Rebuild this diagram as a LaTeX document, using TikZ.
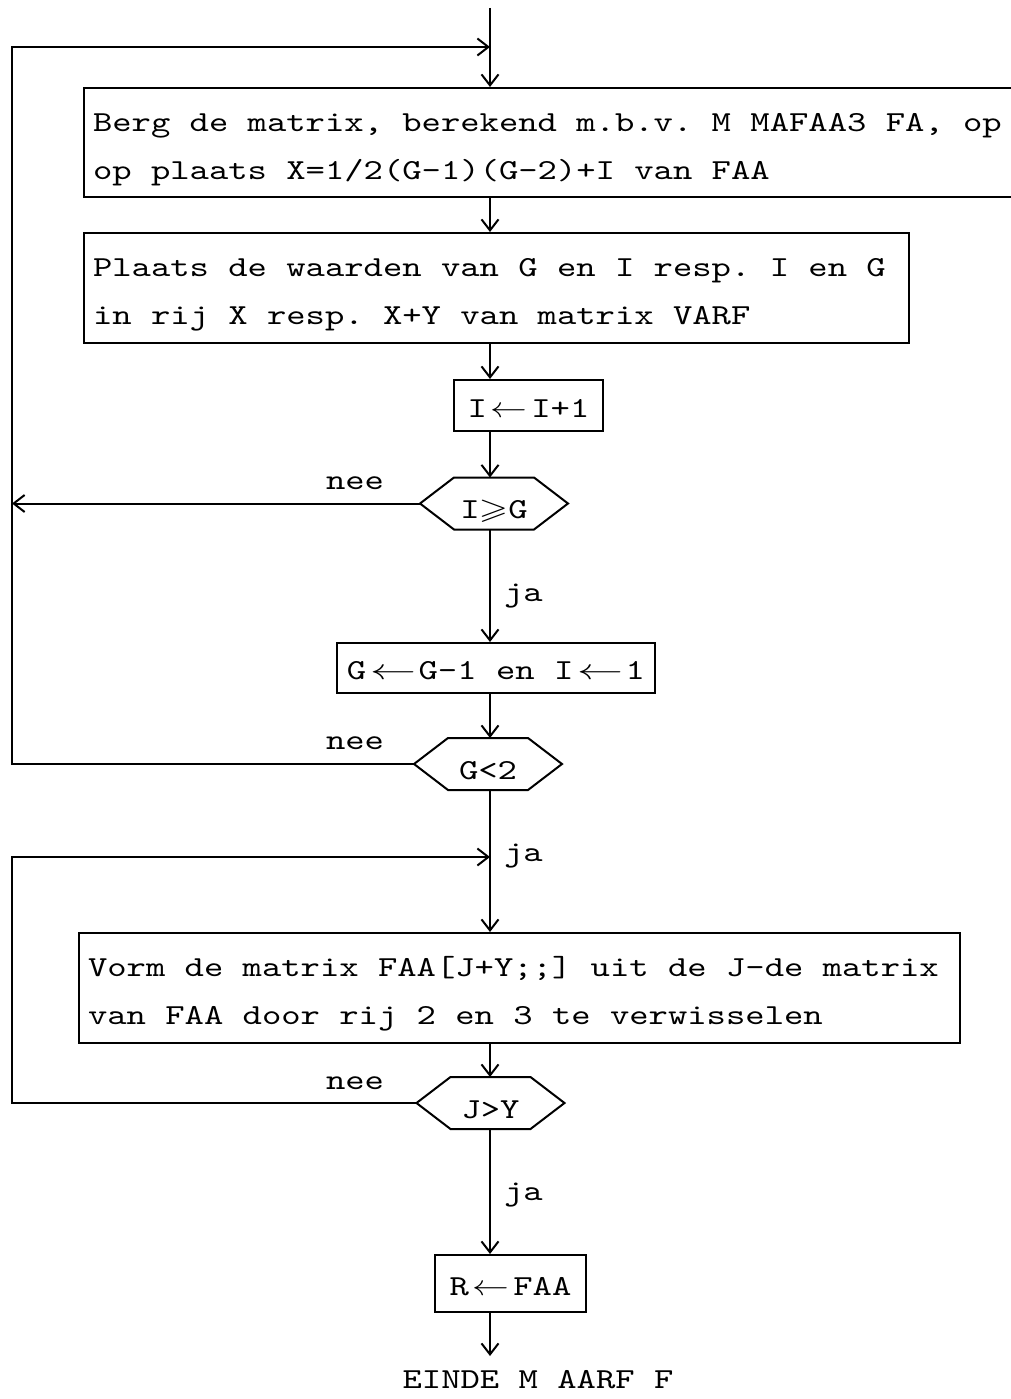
\documentclass[tikz,border=0pt]{standalone}
\usepackage{fontspec}
\usetikzlibrary{arrows.meta,calc}
\newfontfamily\tw{lmmono10-regular.otf}
\newfontfamily\lmm{latinmodern-math.otf}
\newcommand{\lar}{\kern3pt{\lmm ←}\kern3pt}
\newcommand{\llar}{\kern3pt\scalebox{1.25}[1]{\lmm ←}\kern2pt}
\newcommand{\geqsl}{{\lmm ⩾}}
\newcommand{\monosp}{\spaceskip=15.225pt\relax\xspaceskip=15.225pt\relax\frenchspacing}
\newcommand{\sx}[1]{\raisebox{-3pt}[\height][\depth]{\scalebox{1.27}[1]{\monosp #1}}}
\newcommand{\two}[2]{\sx{\begin{tabular}{@{}l@{}}#1\\#2\end{tabular}}}
\begin{document}
\begin{tikzpicture}[x=1pt,y=-1pt,line width=2pt,
  every node/.style={font=\tw\fontsize{29}{48}\selectfont\monosp},
  arr/.style={-{Straight Barb[length=11pt,width=17pt]}},
  wide/.style={draw,inner xsep=9pt,inner ysep=0pt,align=left,minimum height=#1},
  small/.style={draw,inner sep=0pt},
  hexa/.style={inner sep=0pt,minimum width=146pt,minimum height=50pt},
  lbl/.style={inner sep=0pt}]
\useasboundingbox (0,0) rectangle (1011,1399);
\clip (0,0) rectangle (1011,1399);
\coordinate (spine) at (490,0);
% boxes
\node[wide=109pt,text width=938pt] (b1) at (562,142.5)
  {\two{Berg de matrix, berekend m.b.v. M MAFAA3 FA, op}{op plaats X=1/2(G-1)(G-2)+I van FAA}};
\node[wide=110pt,text width=807pt] (b2) at (496.5,288)
  {\two{Plaats de waarden van G en I resp. I en G}{in rij X resp. X+Y van matrix VARF}};
\node[small,minimum width=149pt,minimum height=51pt] (b3) at (528.5,405.5) {\sx{I\lar I+1}};
\node[hexa] (h1) at (494,503.5) {\raisebox{-5pt}[\height][\depth]{\sx{I\geqsl G}}};
\node[small,minimum width=318pt,minimum height=50pt] (b4) at (496,668) {\sx{G\llar G-1 en I\llar 1}};
\node[hexa] (h2) at (488,764) {\raisebox{-4pt}[\height][\depth]{\sx{G<2}}};
\node[wide=110pt,text width=863pt] (b5) at (519.5,988)
  {\two{Vorm de matrix FAA[J+Y;;] uit de J-de matrix}{van FAA door rij 2 en 3 te verwisselen}};
\node[hexa] (h3) at (490.5,1103) {\raisebox{-4pt}[\height][\depth]{\sx{J>Y}}};
\node[small,minimum width=151pt,minimum height=57pt] (b6) at (510.5,1283.5) {\sx{R\lar FAA}};
\node[lbl] (einde) at (538,1380) {\scalebox{1.27}[1]{\monosp EINDE M AARF F}};
% hexagon outlines
\foreach \h in {h1,h2,h3}
  \draw (\h.west) -- ($(\h.north west)+(34,0)$) -- ($(\h.north east)+(-34,0)$) -- (\h.east)
        -- ($(\h.south east)+(-34,0)$) -- ($(\h.south west)+(34,0)$) -- cycle;
% labels
\node[lbl] (nee1) at (355,480) {\sx{nee}};
\node[lbl] (nee2) at (355,740) {\sx{nee}};
\node[lbl] (nee3) at (355,1080) {\sx{nee}};
\node[lbl,anchor=west] (ja1) at (503,593) {\sx{ja}};
\node[lbl,anchor=west] (ja2) at (503,853) {\sx{ja}};
\node[lbl,anchor=west] (ja3) at (503,1192) {\sx{ja}};
% coordinates
\coordinate (start) at (490,8);
\coordinate (L) at (12,47);
\coordinate (j1) at (490,47);
\coordinate (j2) at (490,857);
\coordinate (endc) at (490,1356);
% main flow
\draw[arr] (start) -- (b1.north -| spine);
\draw[arr] (b1.south -| spine) -- (b2.north -| spine);
\draw[arr] (b2.south -| spine) -- (b3.north -| spine);
\draw[arr] (b3.south -| spine) -- (h1.north -| spine);
\draw[arr] (h1.south -| spine) -- (b4.north -| spine);
\draw[arr] (b4.south -| spine) -- (h2.north -| spine);
\draw[arr] (h2.south -| spine) -- (b5.north -| spine);
\draw[arr] (b5.south -| spine) -- (h3.north -| spine);
\draw[arr] (h3.south -| spine) -- (b6.north -| spine);
\draw[arr] (b6.south -| spine) -- (endc);
% loops
\draw[arr] (h1.west) -- (h1.west -| L);
\draw[arr] (h2.west) -- (h2.west -| L) -- (L) -- (j1);
\draw[arr] (h3.west) -- (h3.west -| L) -- (L |- j2) -- (j2);
\end{tikzpicture}
\end{document}
